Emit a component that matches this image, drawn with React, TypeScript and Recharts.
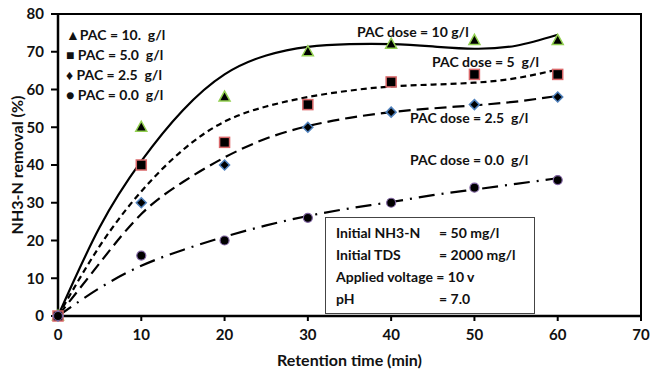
import React from "react";
import {
  ComposedChart,
  Line,
  Scatter,
  XAxis,
  YAxis,
  ReferenceArea,
} from "recharts";

// measured points
const times = [0, 10, 20, 30, 40, 50, 60];
const pac10 = [0, 50, 58, 70, 72, 73, 73];
const pac5 = [0, 40, 46, 56, 62, 64, 64];
const pac25 = [0, 30, 40, 50, 54, 56, 58];
const pac0 = [0, 16, 20, 26, 30, 34, 36];

// trend lines, every 5 min
const trendTimes = [0, 5, 10, 15, 20, 25, 30, 35, 40, 45, 50, 55, 60];
const trend10 = [0, 23.5, 41, 54.5, 64, 69, 71.3, 72, 72, 71.4, 70.8, 71.6, 74.5];
const trend5 = [0, 18.5, 33, 44, 51.5, 55.5, 58, 59.7, 60.8, 61.3, 61.8, 63, 65.3];
const trend25 = [0, 14, 27, 35.5, 42, 47, 50.3, 52.5, 54, 55, 55.8, 56.8, 58.3];
const trend0 = [0, 7.4, 13.3, 17.5, 21, 24, 26.5, 28.5, 30.2, 32, 33.5, 35, 36.5];

const xTicks = [0, 10, 20, 30, 40, 50, 60, 70];
const yTicks = [0, 10, 20, 30, 40, 50, 60, 70, 80];

const FONT = "Lato, 'Open Sans', sans-serif";

const toPoints = (xs: number[], ys: number[]) =>
  xs.map((x, i) => ({ x, y: ys[i] }));

function Triangle(props: any) {
  const { cx, cy } = props;
  return (
    <path
      d={`M${cx},${cy - 6} L${cx + 5.5},${cy + 4} L${cx - 5.5},${cy + 4} Z`}
      fill="#000"
      stroke="#92D050"
      strokeWidth={1.5}
    />
  );
}

function Square(props: any) {
  const { cx, cy } = props;
  return (
    <rect
      x={cx - 5}
      y={cy - 5}
      width={10}
      height={10}
      fill="#000"
      stroke="#D9686A"
      strokeWidth={1.5}
    />
  );
}

function Diamond(props: any) {
  const { cx, cy } = props;
  return (
    <path
      d={`M${cx},${cy - 5} L${cx + 5},${cy} L${cx},${cy + 5} L${cx - 5},${cy} Z`}
      fill="#000"
      stroke="#4F81BD"
      strokeWidth={1.5}
    />
  );
}

function Dot(props: any) {
  const { cx, cy } = props;
  return (
    <circle cx={cx} cy={cy} r={4.5} fill="#000" stroke="#8064A2" strokeWidth={1.2} />
  );
}

const textStyle: React.CSSProperties = {
  position: "absolute",
  fontFamily: FONT,
  fontWeight: 700,
  fontSize: 14,
  color: "#111",
  whiteSpace: "pre",
  lineHeight: "16px",
};

const axisText = { fontSize: 15, fontWeight: 700, fill: "#111", fontFamily: FONT };

export default function App() {
  return (
    <div style={{ position: "relative", width: 651, height: 369, background: "#fff" }}>
      <style>{"body{margin:0}"}</style>
      <ComposedChart
        width={651}
        height={369}
        margin={{ top: 14, right: 10, bottom: 0, left: 0 }}
      >
        <XAxis
          type="number"
          dataKey="x"
          domain={[0, 70]}
          ticks={xTicks}
          height={53}
          tickSize={5}
          tickMargin={8}
          axisLine={{ stroke: "#000", strokeWidth: 2.5 }}
          tickLine={{ stroke: "#000", strokeWidth: 2 }}
          tick={axisText}
          label={{
            value: "Retention time (min)",
            position: "insideBottom",
            offset: 3,
            style: { ...axisText, fontSize: 16 },
          }}
        />
        <YAxis
          type="number"
          dataKey="y"
          domain={[0, 80]}
          ticks={yTicks}
          width={58}
          tickSize={7}
          tickMargin={7}
          axisLine={{ stroke: "#000", strokeWidth: 2.5 }}
          tickLine={{ stroke: "#000", strokeWidth: 2 }}
          tick={axisText}
        />
        <ReferenceArea
          x1={0}
          x2={70}
          y1={0}
          y2={80}
          fill="none"
          stroke="#000"
          strokeWidth={2}
          ifOverflow="visible"
        />
        <Line
          data={toPoints(trendTimes, trend10)}
          dataKey="y"
          type="natural"
          stroke="#000"
          strokeWidth={2.2}
          dot={false}
          isAnimationActive={false}
        />
        <Line
          data={toPoints(trendTimes, trend5)}
          dataKey="y"
          type="natural"
          stroke="#000"
          strokeWidth={2.2}
          strokeDasharray="6 4"
          dot={false}
          isAnimationActive={false}
        />
        <Line
          data={toPoints(trendTimes, trend25)}
          dataKey="y"
          type="natural"
          stroke="#000"
          strokeWidth={2.2}
          strokeDasharray="12 6"
          dot={false}
          isAnimationActive={false}
        />
        <Line
          data={toPoints(trendTimes, trend0)}
          dataKey="y"
          type="natural"
          stroke="#000"
          strokeWidth={2.2}
          strokeDasharray="16 7 2 7"
          dot={false}
          isAnimationActive={false}
        />
        <Scatter data={toPoints(times, pac10)} shape={<Triangle />} isAnimationActive={false} />
        <Scatter data={toPoints(times, pac5)} shape={<Square />} isAnimationActive={false} />
        <Scatter data={toPoints(times, pac25)} shape={<Diamond />} isAnimationActive={false} />
        <Scatter data={toPoints(times, pac0)} shape={<Dot />} isAnimationActive={false} />
      </ComposedChart>

      {/* y axis title */}
      <div
        style={{
          ...textStyle,
          fontSize: 16,
          left: 17,
          top: 165,
          transform: "translate(-50%, -50%) rotate(-90deg)",
        }}
      >
        NH3-N removal (%)
      </div>

      {/* legend */}
      <div style={{ ...textStyle, left: 66, top: 27 }}>{"▲PAC = 10.  g/l"}</div>
      <div style={{ ...textStyle, left: 66, top: 47 }}>{"■ PAC = 5.0  g/l"}</div>
      <div style={{ ...textStyle, left: 66, top: 67 }}>{"♦ PAC = 2.5  g/l"}</div>
      <div style={{ ...textStyle, left: 66, top: 87 }}>{"● PAC = 0.0  g/l"}</div>

      {/* curve labels */}
      <div style={{ ...textStyle, left: 357, top: 24 }}>PAC dose = 10 g/l</div>
      <div style={{ ...textStyle, left: 432, top: 54 }}>{"PAC dose = 5  g/l"}</div>
      <div style={{ ...textStyle, left: 410, top: 110 }}>{"PAC dose = 2.5  g/l"}</div>
      <div style={{ ...textStyle, left: 410, top: 152 }}>{"PAC dose = 0.0  g/l"}</div>

      {/* conditions box */}
      <div
        style={{
          position: "absolute",
          left: 325,
          top: 217,
          width: 210,
          height: 97,
          border: "1px solid #444",
          background: "#fff",
          boxSizing: "border-box",
        }}
      />
      <div style={{ ...textStyle, left: 336, top: 225 }}>Initial NH3-N</div>
      <div style={{ ...textStyle, left: 439, top: 225 }}>= 50 mg/l</div>
      <div style={{ ...textStyle, left: 336, top: 247 }}>Initial TDS</div>
      <div style={{ ...textStyle, left: 439, top: 247 }}>= 2000 mg/l</div>
      <div style={{ ...textStyle, left: 336, top: 269 }}>Applied voltage = 10 v</div>
      <div style={{ ...textStyle, left: 336, top: 291 }}>pH</div>
      <div style={{ ...textStyle, left: 439, top: 291 }}>= 7.0</div>
    </div>
  );
}
